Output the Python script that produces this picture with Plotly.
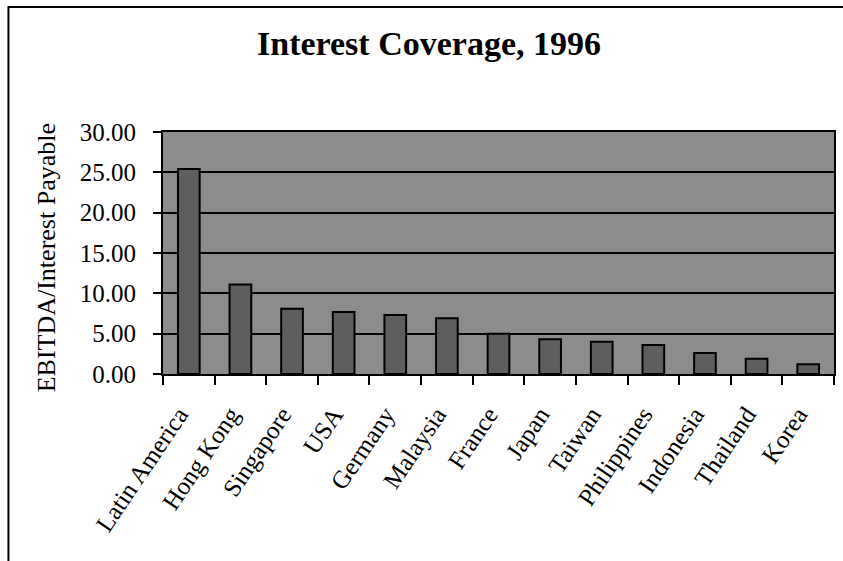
import plotly.graph_objects as go

categories = ["Latin America", "Hong Kong", "Singapore", "USA", "Germany", "Malaysia",
              "France", "Japan", "Taiwan", "Philippines", "Indonesia", "Thailand", "Korea"]
coverage = [25.4, 11.1, 8.1, 7.7, 7.3, 6.9, 5.0, 4.3, 4.0, 3.6, 2.6, 1.9, 1.2]
y_ticks = [0, 5, 10, 15, 20, 25, 30]
y_tick_labels = ["0.00", "5.00", "10.00", "15.00", "20.00", "25.00", "30.00"]

W, H = 843, 561
L, R, T, B = 163, 836, 131.5, 374.5
pw, ph = R - L, B - T

def px_x(x):
    return (x - L) / pw

def px_y(y):
    return 1 - (y - T) / ph

serif = "Liberation Serif, Times New Roman, serif"

fig = go.Figure(go.Bar(
    x=categories, y=coverage,
    marker=dict(color="#5e5e5e", line=dict(color="black", width=2)),
))

fig.update_layout(
    width=W, height=H,
    margin=dict(l=L, r=W - R, t=T, b=H - B),
    paper_bgcolor="white",
    plot_bgcolor="#8c8c8c",
    bargap=0.58,
    showlegend=False,
    font=dict(family=serif, size=25, color="black"),
    title=dict(text="<b>Interest Coverage, 1996</b>", font=dict(family=serif, size=34, color="black"),
               x=429 / W, xref="container", xanchor="center",
               y=1 - 43 / H, yref="container", yanchor="middle"),
    xaxis=dict(
        type="category", tickangle=-56, tickson="boundaries",
        ticks="outside", ticklen=9, tickwidth=1.5, tickcolor="black",
        ticklabelstandoff=14, ticklabelshift=-10,
        showline=True, linecolor="black", linewidth=2, mirror=True,
        showgrid=False, tickfont=dict(family=serif, size=25, color="black"),
    ),
    yaxis=dict(
        range=[0, 30], tickvals=y_ticks, ticktext=y_tick_labels,
        ticks="outside", ticklen=8, tickwidth=1.5, tickcolor="black",
        ticklabelstandoff=12,
        showline=True, linecolor="black", linewidth=2, mirror=True,
        showgrid=True, gridcolor="black", gridwidth=1.5, zeroline=False,
        tickfont=dict(family=serif, size=25, color="black"),
    ),
    annotations=[dict(
        text="EBITDA/Interest Payable", textangle=-90, showarrow=False,
        xref="paper", yref="paper", x=px_x(47), y=px_y(258),
        xanchor="center", yanchor="middle",
        font=dict(family=serif, size=26, color="black"),
    )],
    shapes=[dict(
        type="rect", xref="paper", yref="paper",
        x0=px_x(8), x1=px_x(860), y0=px_y(600), y1=px_y(6),
        line=dict(color="black", width=2), fillcolor="rgba(0,0,0,0)", layer="above",
    )],
)

fig.write_html("out.html")
